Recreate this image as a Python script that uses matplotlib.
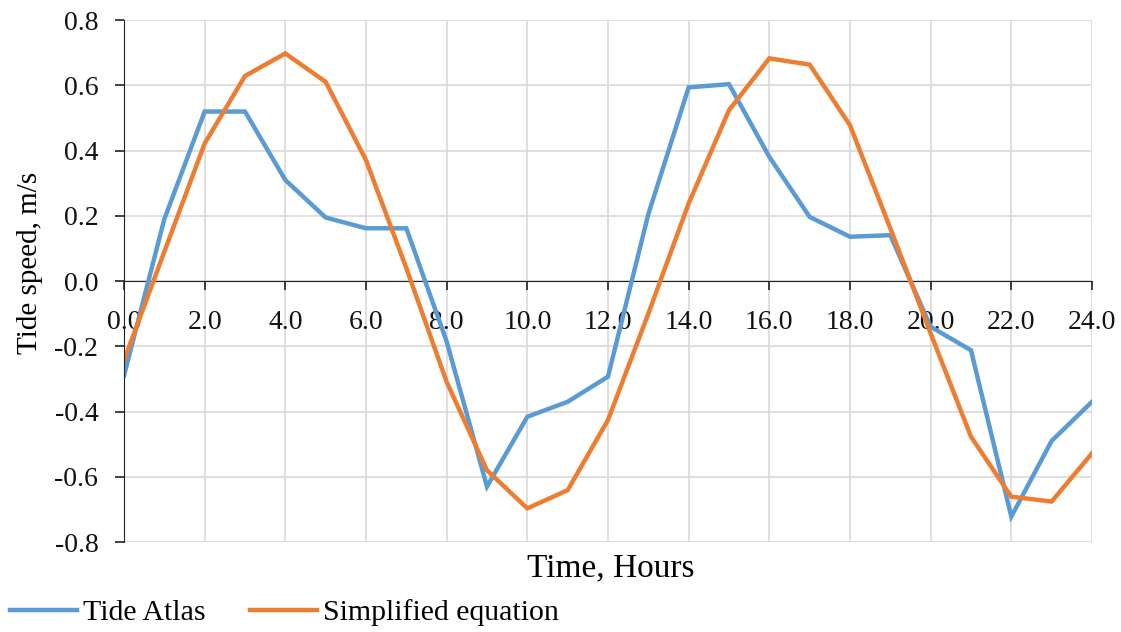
import numpy as np
import matplotlib
matplotlib.use("Agg")
import matplotlib.pyplot as plt
from matplotlib.ticker import FormatStrFormatter, MultipleLocator

plt.rcParams['font.family'] = ['Liberation Serif', 'DejaVu Serif']
plt.rcParams['axes.unicode_minus'] = False

hours = list(range(25))
tide_atlas = [-0.29, 0.19, 0.52, 0.52, 0.31, 0.195, 0.162, 0.162, -0.185, -0.63,
              -0.416, -0.37, -0.293, 0.205, 0.594, 0.604, 0.381, 0.197, 0.136, 0.141,
              -0.14, -0.212, -0.722, -0.49, -0.37]
simplified = [-0.243, 0.09, 0.422, 0.629, 0.698, 0.611, 0.371, 0.04, -0.309, -0.58,
              -0.697, -0.641, -0.426, -0.1, 0.238, 0.524, 0.683, 0.664, 0.478, 0.162,
              -0.16, -0.477, -0.661, -0.676, -0.528]

fig = plt.figure(figsize=(11.21, 6.32), dpi=100)
ax = fig.add_axes([0.1106, 0.1424, 0.8635, 0.8256])

grid_c = '#d9d9d9'
ax.plot(hours, tide_atlas, color='#5B9BD5', lw=3.2, label='Tide Atlas', solid_joinstyle='miter')
ax.plot(hours, simplified, color='#ED7D31', lw=3.2, label='Simplified equation', solid_joinstyle='miter')

ax.set_xlim(0, 24)
ax.set_ylim(-0.8, 0.8)
ax.xaxis.set_major_locator(MultipleLocator(2))
ax.yaxis.set_major_locator(MultipleLocator(0.2))
ax.xaxis.set_major_formatter(FormatStrFormatter('%.1f'))
ax.yaxis.set_major_formatter(FormatStrFormatter('%.1f'))
ax.grid(True, color=grid_c, lw=1.2)
ax.set_axisbelow(True)

ax.spines['bottom'].set_position(('data', 0))
ax.spines['bottom'].set_zorder(1)
ax.spines['top'].set_visible(False)
ax.spines['right'].set_visible(False)
ax.spines['left'].set_color('#222222')
ax.spines['bottom'].set_color('#222222')
ax.tick_params(axis='both', direction='out', length=6.5, width=1.2, color='#222222',
               labelsize=20, labelcolor='#111111')
ax.tick_params(axis='x', pad=14)
ax.tick_params(axis='y', pad=12)

fig.text(0.545, 1 - 568 / 632, 'Time, Hours', ha='center', va='center', fontsize=24)
fig.text(0.027, 1 - 263 / 632, 'Tide speed, m/s', ha='center', va='center',
         rotation=90, fontsize=21)

fig.legend(loc='center left', bbox_to_anchor=(0.009, 1 - 613 / 632), ncol=2, frameon=False,
           fontsize=21.5, handlelength=2.24, handletextpad=0.2, columnspacing=1.5,
           borderpad=0, borderaxespad=0)

fig.savefig('out.png', dpi=100)
